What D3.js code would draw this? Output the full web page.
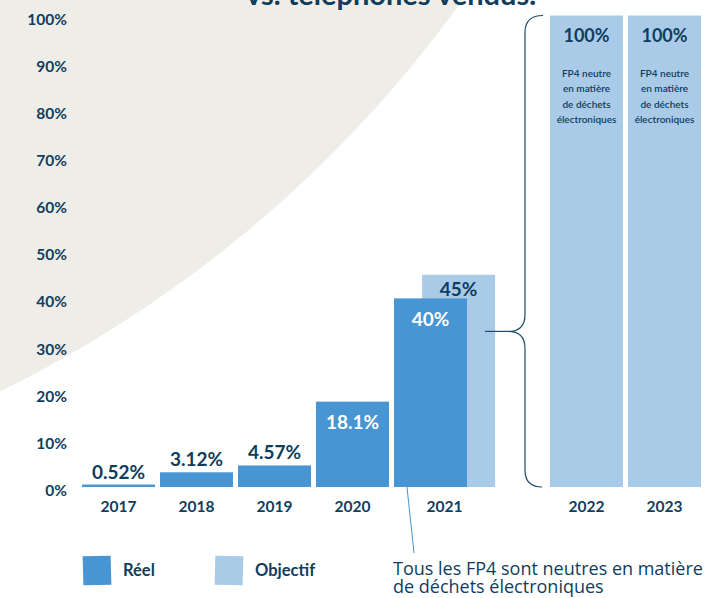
<!DOCTYPE html>
<html>
<head>
<meta charset="utf-8">
<script src="https://cdn.jsdelivr.net/npm/d3@7"></script>
<style>
  body { margin: 0; background: #fff; }
  svg { display: block; font-family: Lato, "Open Sans", sans-serif; }
</style>
</head>
<body>
<div id="chart"></div>
<script>
// data
const years = ["2017", "2018", "2019", "2020", "2021", "2022", "2023"];
const slots = ["2017", "2018", "2019", "2020", "2021", "gap", "2022", "2023"];
const actual = [0.52, 3.12, 4.57, 18.1, 40, null, null];
const target = [null, null, null, null, 45, 100, 100];
const yTicks = [0, 10, 20, 30, 40, 50, 60, 70, 80, 90, 100];
const descLines = ["FP4 neutre", "en matière", "de déchets", "électroniques"];
const legendItems = ["Réel", "Objectif"];
const noteLines = ["Tous les FP4 sont neutres en matière", "de déchets électroniques"];
const titleTail = "vs. téléphones vendus.";
const braceTop = 100, braceMid = 33, braceBottom = 0;

const width = 706, height = 598;
const navy = "#0f3d5e", blue = "#4795d2", light = "#a9cbe7";

const svg = d3.select("#chart")
  .append("svg")
  .attr("width", width)
  .attr("height", height);

// beige disc in the top left corner
svg.append("circle")
  .attr("cx", -552).attr("cy", -730).attr("r", 1250)
  .attr("fill", "#efede8");

// cut-off title line
svg.append("text")
  .attr("x", 246).attr("y", 5)
  .attr("fill", navy)
  .style("font-size", "29px").style("font-weight", 700)
  .text(titleTail);

const x = d3.scaleBand()
  .domain(slots)
  .range([79.5, 703.5])
  .paddingInner(0.064)
  .paddingOuter(0.032);

const y = d3.scaleLinear()
  .domain([0, 100])
  .range([487, 15.5]);

const bw = x.bandwidth();
const shift = bw * 0.385;

// y axis labels
const yAxis = svg.append("g")
  .attr("transform", "translate(67,0)")
  .call(d3.axisLeft(y).tickValues(yTicks).tickSize(0).tickPadding(0).tickFormat(d => d + "%"));
yAxis.select(".domain").remove();
yAxis.selectAll("text")
  .attr("dy", "0.55em")
  .attr("fill", navy)
  .style("font-family", "Lato, sans-serif")
  .style("font-size", "15.5px")
  .style("font-weight", 700);

const rows = years.map((yr, i) => ({ year: yr, actual: actual[i], target: target[i] }));

// target bars (behind)
const tRows = rows.filter(d => d.target != null);
const tx = d => x(d.year) + (d.actual != null ? shift : 0);
svg.append("g").selectAll("rect")
  .data(tRows)
  .join("rect")
  .attr("x", tx)
  .attr("y", d => y(d.target))
  .attr("width", bw)
  .attr("height", d => y(0) - y(d.target))
  .attr("fill", light);

// callout line from the 2021 bar
const r21 = rows.find(d => d.year === "2021");
svg.append("line")
  .attr("x1", x(r21.year) + 13).attr("y1", y(0))
  .attr("x2", x(r21.year) + 20).attr("y2", 553)
  .attr("stroke", blue).attr("stroke-width", 1);

// actual bars
const aRows = rows.filter(d => d.actual != null);
svg.append("g").selectAll("rect")
  .data(aRows)
  .join("rect")
  .attr("x", d => x(d.year))
  .attr("y", d => y(d.actual))
  .attr("width", bw)
  .attr("height", d => y(0) - y(d.actual))
  .attr("fill", blue);

// value labels on actual bars
svg.append("g").selectAll("text")
  .data(aRows)
  .join("text")
  .attr("x", d => x(d.year) + bw / 2)
  .attr("y", d => d.actual > 10 ? y(d.actual) + 27.5 : y(d.actual) - 6)
  .attr("text-anchor", "middle")
  .attr("fill", d => d.actual > 10 ? "#fff" : navy)
  .style("font-size", "19px").style("font-weight", 700)
  .text(d => d.actual + "%");

// value labels on target bars
svg.append("g").selectAll("text")
  .data(tRows)
  .join("text")
  .attr("x", d => tx(d) + bw / 2)
  .attr("y", d => y(d.target) + (d.actual != null ? 21 : 26.5))
  .attr("text-anchor", "middle")
  .attr("fill", navy)
  .style("font-size", d => d.actual != null ? "19px" : "18px").style("font-weight", 700)
  .text(d => d.target + "%");

// description inside the full target bars
tRows.filter(d => d.actual == null).forEach(d => {
  svg.append("g").selectAll("text")
    .data(descLines)
    .join("text")
    .attr("x", tx(d) + bw / 2)
    .attr("y", (t, i) => 76.5 + i * 15.6)
    .attr("text-anchor", "middle")
    .attr("fill", navy)
    .style("font-size", "10px").style("font-weight", 600)
    .text(t => t);
});

// year labels
svg.append("g").selectAll("text")
  .data(rows)
  .join("text")
  .attr("x", d => {
    const x0 = x(d.year);
    const x1 = (d.actual != null && d.target != null) ? x0 + shift + bw : x0 + bw;
    return (x0 + x1) / 2;
  })
  .attr("y", 511.5)
  .attr("text-anchor", "middle")
  .attr("fill", navy)
  .style("font-size", "15.5px").style("font-weight", 700)
  .text(d => d.year);

// curly brace grouping the objectives
const bx = 525, tipX = 508, r = 17;
const yt = y(braceTop), ym = y(braceMid), yb = y(braceBottom);
const brace = d3.path();
brace.moveTo(bx + 18, yt);
brace.quadraticCurveTo(bx, yt, bx, yt + r);
brace.lineTo(bx, ym - r);
brace.quadraticCurveTo(bx, ym, tipX, ym);
brace.quadraticCurveTo(bx, ym, bx, ym + r);
brace.lineTo(bx, yb - r);
brace.quadraticCurveTo(bx, yb, bx + 17, yb);
svg.append("path")
  .attr("d", brace.toString())
  .attr("fill", "none")
  .attr("stroke", "#1d4a6b")
  .attr("stroke-width", 1.2);
svg.append("line")
  .attr("x1", 485).attr("x2", tipX)
  .attr("y1", ym).attr("y2", ym)
  .attr("stroke", "#1d4a6b").attr("stroke-width", 1.2);

// legend
const legendX = [83, 215];
const legend = svg.append("g").selectAll("g")
  .data(legendItems)
  .join("g")
  .attr("transform", (d, i) => `translate(${legendX[i]},556)`);
legend.append("rect")
  .attr("width", 28).attr("height", 29)
  .attr("transform", (d, i) => `rotate(${i ? 1.5 : -1.5},14,14)`)
  .attr("fill", (d, i) => i ? light : blue);
legend.append("text")
  .attr("x", 40).attr("y", 20)
  .attr("fill", navy)
  .style("font-size", "16.5px").style("font-weight", 700)
  .text(d => d);

// note under the chart
svg.append("g").selectAll("text")
  .data(noteLines)
  .join("text")
  .attr("x", 393)
  .attr("y", (d, i) => 575 + i * 18)
  .attr("fill", navy)
  .style("font-family", "'Open Sans', sans-serif")
  .style("font-size", "18px")
  .text(d => d);
</script>
</body>
</html>
